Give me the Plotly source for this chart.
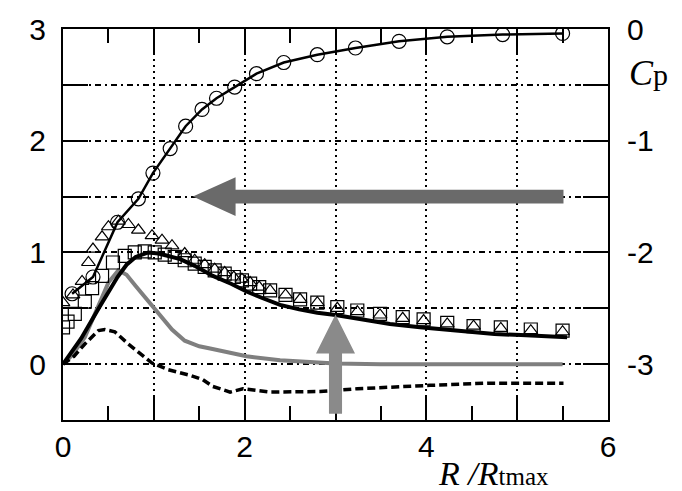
import plotly.graph_objects as go

# ---- data (x = R/Rtmax, y on left axis; right axis Cp = y - 3) ----
circ_x = [0.1, 0.33, 0.6, 0.83, 0.99, 1.18, 1.35, 1.53, 1.69, 1.89, 2.13, 2.43, 2.8, 3.22, 3.7, 4.23, 4.84, 5.5]
circ_y = [0.63, 0.78, 1.27, 1.48, 1.71, 1.93, 2.13, 2.28, 2.38, 2.48, 2.6, 2.7, 2.77, 2.83, 2.89, 2.93, 2.95, 2.96]

sq_x = [0.0, 0.05, 0.13, 0.24, 0.32, 0.43, 0.55, 0.68, 0.79, 0.9, 1.01, 1.12, 1.23, 1.34, 1.45, 1.56,
        1.67, 1.78, 1.88, 1.97, 2.06, 2.16, 2.28, 2.45, 2.61, 2.8, 3.02, 3.24, 3.49, 3.74, 3.97, 4.23,
        4.52, 4.82, 5.15, 5.5]
sq_y = [0.33, 0.38, 0.45, 0.56, 0.68, 0.79, 0.91, 0.97, 1.0, 1.01, 1.0, 0.98, 0.96, 0.93, 0.9, 0.87,
        0.84, 0.81, 0.78, 0.75, 0.72, 0.69, 0.66, 0.62, 0.58, 0.55, 0.51, 0.48, 0.45, 0.42, 0.4, 0.37,
        0.34, 0.33, 0.31, 0.3]

tri_x = [0.0, 0.11, 0.21, 0.28, 0.33, 0.43, 0.5, 0.61, 0.72, 0.83, 0.98, 1.09, 1.2, 1.34, 1.45, 1.56,
         1.67, 1.78, 1.88, 1.97, 2.06, 2.16, 2.28, 2.45, 2.61, 2.8, 3.02, 3.24, 3.49, 3.74, 3.97, 4.23,
         4.52, 4.82, 5.15, 5.5]
tri_y = [0.55, 0.62, 0.74, 0.91, 1.03, 1.14, 1.23, 1.28, 1.25, 1.2, 1.15, 1.11, 1.06, 0.99, 0.93, 0.89,
         0.85, 0.82, 0.78, 0.76, 0.73, 0.69, 0.66, 0.62, 0.58, 0.55, 0.5, 0.47, 0.44, 0.41, 0.39, 0.36,
         0.34, 0.32, 0.3, 0.29]

blk_x = [0.0, 0.2, 0.4, 0.6, 0.7, 0.8, 0.94, 1.05, 1.15, 1.29, 1.45, 1.65, 1.85, 2.02, 2.2, 2.39, 2.6,
         2.8, 3.0, 3.3, 3.6, 3.93, 4.2, 4.48, 4.75, 5.04, 5.3, 5.55]
blk_y = [0.0, 0.23, 0.51, 0.78, 0.89, 0.96, 1.0, 0.99, 0.97, 0.94, 0.88, 0.79, 0.72, 0.65, 0.59, 0.53, 0.49,
         0.46, 0.44, 0.4, 0.36, 0.33, 0.31, 0.29, 0.27, 0.26, 0.25, 0.24]

gray_x = [0.0, 0.1, 0.24, 0.39, 0.5, 0.61, 0.7, 0.8, 0.9, 1.01, 1.1, 1.2, 1.34, 1.5, 1.62, 1.8, 2.02,
          2.39, 2.76, 3.0, 3.5, 4.5, 5.5]
gray_y = [0.0, 0.08, 0.24, 0.53, 0.73, 0.84, 0.8, 0.7, 0.6, 0.5, 0.4, 0.31, 0.21, 0.16, 0.14, 0.11, 0.07,
          0.035, 0.015, 0.005, 0.0, 0.0, 0.0]

dash_x = [0.0, 0.12, 0.24, 0.39, 0.46, 0.57, 0.72, 0.87, 0.98, 1.16, 1.4, 1.54, 1.65, 1.84, 1.98, 2.28,
          2.83, 3.24, 3.6, 4.04, 4.67, 5.51]
dash_y = [0.0, 0.07, 0.18, 0.3, 0.31, 0.29, 0.18, 0.08, 0.01, -0.05, -0.1, -0.14, -0.2, -0.25, -0.22,
          -0.25, -0.245, -0.22, -0.21, -0.19, -0.17, -0.17]

x_ticks = [0, 1, 2, 3, 4, 5, 6]
x_ticktext = ["0", "", "2", "", "4", "", "6"]
y_ticks = [-0.5, 0, 0.5, 1, 1.5, 2, 2.5, 3]
y_ticktext = ["", "0", "", "1", "", "2", "", "3"]
cp_ticks = [-3, -2, -1, 0]
cp_ticktext = ["-3", "-2", "-1", "0"]

# arrow geometry (annotation, data units)
left_arrow = dict(tip=1.43, base=1.9, end=5.51, y=1.5, head=0.174, shaft=0.061)
up_arrow = dict(x=3.0, tip=0.445, base=0.096, end=-0.445, head=0.215, shaft=0.072)

fig = go.Figure()

fig.add_trace(go.Scatter(x=gray_x, y=gray_y, mode="lines", line=dict(color="#7f7f7f", width=4),
                         hoverinfo="skip", showlegend=False))
fig.add_trace(go.Scatter(x=dash_x, y=dash_y, mode="lines",
                         line=dict(color="black", width=3.5, dash="8px,4px"), showlegend=False))
fig.add_trace(go.Scatter(x=sq_x, y=sq_y, mode="markers",
                         marker=dict(symbol="square-open", size=13, color="black", line=dict(width=1.2)),
                         showlegend=False))
fig.add_trace(go.Scatter(x=tri_x, y=tri_y, mode="markers",
                         marker=dict(symbol="triangle-up-open", size=12, color="black", line=dict(width=1.2)),
                         showlegend=False))
fig.add_trace(go.Scatter(x=blk_x, y=blk_y, mode="lines", line=dict(color="black", width=4),
                         showlegend=False))
fig.add_trace(go.Scatter(x=circ_x, y=circ_y, mode="lines+markers", line=dict(color="black", width=2.5),
                         marker=dict(symbol="circle-open", size=14, color="black", line=dict(width=1.2)),
                         showlegend=False))
# carrier for right axis
fig.add_trace(go.Scatter(x=[0, 6], y=[-3.5, 0], yaxis="y2", mode="lines", line=dict(width=0),
                         hoverinfo="skip", showlegend=False))

la = left_arrow
path_left = (f"M {la['tip']},{la['y']} L {la['base']},{la['y']+la['head']} L {la['base']},{la['y']+la['shaft']} "
             f"L {la['end']},{la['y']+la['shaft']} L {la['end']},{la['y']-la['shaft']} "
             f"L {la['base']},{la['y']-la['shaft']} L {la['base']},{la['y']-la['head']} Z")
ua = up_arrow
path_up = (f"M {ua['x']},{ua['tip']} L {ua['x']+ua['head']},{ua['base']} L {ua['x']+ua['shaft']},{ua['base']} "
           f"L {ua['x']+ua['shaft']},{ua['end']} L {ua['x']-ua['shaft']},{ua['end']} "
           f"L {ua['x']-ua['shaft']},{ua['base']} L {ua['x']-ua['head']},{ua['base']} Z")
fig.add_shape(type="path", path=path_left, xref="x", yref="y", fillcolor="#6a6a6a",
              line=dict(width=0), layer="above")
fig.add_shape(type="path", path=path_up, xref="x", yref="y", fillcolor="#8a8a8a",
              line=dict(width=0), layer="above")

tickfont = dict(family="Liberation Sans, Arial, sans-serif", size=30, color="black")

fig.update_layout(
    width=682, height=491,
    margin=dict(l=63, r=74, t=17, b=71),
    paper_bgcolor="white", plot_bgcolor="white",
    xaxis=dict(range=[0, 6], tickvals=x_ticks, ticktext=x_ticktext, ticks="inside", ticklen=24,
               tickwidth=2, tickcolor="black", showline=True, linewidth=2, linecolor="black",
               mirror="ticks", showgrid=True, gridcolor="black", gridwidth=1.5, griddash="2px,4px",
               zeroline=False, tickfont=tickfont, ticklabelstandoff=-1,
               minor=dict(dtick=0.5, ticks="inside", ticklen=14, tickwidth=2, tickcolor="black",
                          showgrid=False)),
    yaxis=dict(range=[-0.5, 3], tickvals=y_ticks, ticktext=y_ticktext, ticks="inside", ticklen=25,
               tickwidth=2, tickcolor="black", showline=True, linewidth=2, linecolor="black",
               mirror="ticks", showgrid=True, gridcolor="black", gridwidth=1.5,
               griddash="6px,4px,2px,4px", zeroline=False, tickfont=tickfont, ticklabelstandoff=9),
    yaxis2=dict(range=[-3.5, 0], overlaying="y", side="right", tickvals=cp_ticks, ticktext=cp_ticktext,
                ticks="", showgrid=False, showline=False, zeroline=False, tickfont=tickfont,
                ticklabelstandoff=18),
)

# axis titles as annotations
fig.add_annotation(xref="paper", yref="paper", x=(627 - 63) / 545, y=(420 - 62) / 403,
                   xanchor="left", yanchor="middle", showarrow=False,
                   text="<i>C</i><span style='font-size:30px'>p</span>",
                   font=dict(family="Liberation Serif, Times New Roman, serif", size=36, color="black"))
fig.add_annotation(xref="paper", yref="paper", x=(437 - 63) / 545, y=(420 - 495) / 403,
                   xanchor="left", yanchor="bottom", showarrow=False, borderpad=0,
                   text="<i>R /R</i><span style='font-size:25px'>tmax</span>",
                   font=dict(family="Liberation Serif, Times New Roman, serif", size=34, color="black"))

fig.write_html("out.html")
